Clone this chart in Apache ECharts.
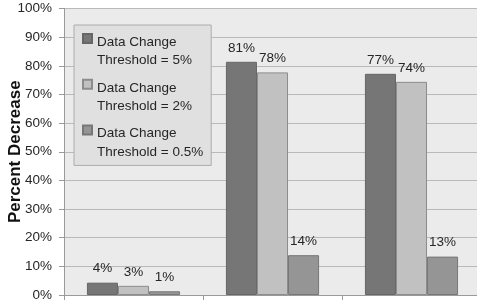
<!DOCTYPE html>
<html>
<head>
<meta charset="utf-8">
<script src="https://cdn.jsdelivr.net/npm/echarts@6/dist/echarts.min.js"></script>
<style>
  html, body { margin: 0; padding: 0; background: #fff; }
  #chart { width: 477px; height: 304px; }
</style>
</head>
<body>
<div id="chart"></div>
<script>
const categories = ['Group 1', 'Group 2', 'Group 3'];
const seriesNames = ['Data Change\nThreshold = 5%', 'Data Change\nThreshold = 2%', 'Data Change\nThreshold = 0.5%'];
const threshold5 = [4.3, 81.4, 77.2];
const threshold2 = [3.2, 77.7, 74.4];
const threshold05 = [1.3, 13.9, 13.4];
const yTicks = { min: 0, max: 100, interval: 10 };

const fills = ['#767676', '#c1c1c1', '#959595'];
const borders = ['#666666', '#8c8c8c', '#777777'];
const font = 'Liberation Sans, Arial, sans-serif';

function bar(name, data, i) {
  return {
    name: name,
    type: 'bar',
    data: data,
    barGap: 0,
    barCategoryGap: '33%',
    itemStyle: { color: fills[i], borderColor: borders[i], borderWidth: 1 },
    label: {
      show: true,
      position: 'top',
      distance: 7,
      color: '#262626',
      fontFamily: font,
      fontSize: 13.5,
      formatter: p => Math.round(p.value) + '%'
    }
  };
}

const chart = echarts.init(document.getElementById('chart'));
chart.setOption({
  animation: false,
  backgroundColor: '#ffffff',
  grid: {
    left: 64, top: 8.5, width: 417, bottom: 9,
    outerBoundsMode: 'none',
    containLabel: false,
    show: true, backgroundColor: '#ebebeb', borderWidth: 0
  },
  legend: {
    orient: 'vertical',
    left: 74, top: 25,
    backgroundColor: '#e0e0e0',
    borderColor: '#acacac',
    borderWidth: 1,
    padding: [8, 8, 4, 8],
    itemGap: 8.7,
    itemWidth: 9,
    itemHeight: 35,
    icon: 'path://M0,0H9V9H0ZM0,35L0,35',
    textStyle: { fontFamily: font, fontSize: 13.5, lineHeight: 18.5, color: '#262626' }
  },
  xAxis: {
    type: 'category',
    data: categories,
    axisLine: { lineStyle: { color: '#9a9a9a' } },
    axisTick: { show: true, length: 5, lineStyle: { color: '#9a9a9a' } },
    axisLabel: { show: false }
  },
  yAxis: {
    type: 'value',
    min: yTicks.min, max: yTicks.max, interval: yTicks.interval,
    name: 'Percent Decrease',
    nameLocation: 'middle',
    nameGap: 40,
    nameMoveOverlap: false,
    nameTextStyle: { fontFamily: font, fontSize: 17, fontWeight: 'bold', color: '#111' },
    axisLine: { show: true, lineStyle: { color: '#9a9a9a' } },
    axisTick: { show: true, length: 5, lineStyle: { color: '#9a9a9a' } },
    axisLabel: { formatter: '{value}%', margin: 12, fontFamily: font, fontSize: 13.5, color: '#262626' },
    splitLine: { lineStyle: { color: '#b9b9b9' } }
  },
  series: [
    bar(seriesNames[0], threshold5, 0),
    bar(seriesNames[1], threshold2, 1),
    bar(seriesNames[2], threshold05, 2)
  ]
});
</script>
</body>
</html>
